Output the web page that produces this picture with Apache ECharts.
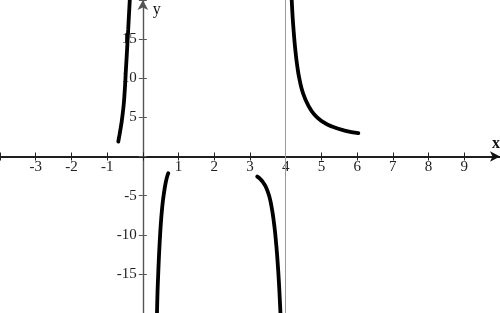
<!DOCTYPE html>
<html>
<head>
<meta charset="utf-8">
<script src="https://cdn.jsdelivr.net/npm/echarts@6/dist/echarts.min.js"></script>
<style>
html,body{margin:0;padding:0;background:#fff;}
#chart{width:500px;height:313px;}
</style>
</head>
<body>
<div id="chart"></div>
<script>
// Axis ranges and tick labels
const xRange = [-4, 10];
const yRange = [-20, 20];
const xTickLabels = [-3, -2, -1, 1, 2, 3, 4, 5, 6, 7, 8, 9];
const yTickLabels = [-15, -10, -5, 5, 10, 15];
const asymptoteX = [4];

// Curve branches: [x, y]
const branch1 = [[-0.688,1.90],[-0.654,2.76],[-0.621,3.65],[-0.590,4.55],[-0.562,5.57],[-0.537,6.59],[-0.517,7.74],[-0.497,9.15],[-0.478,10.81],[-0.455,12.60],[-0.433,14.39],[-0.411,16.18],[-0.389,18.10],[-0.366,20.01],[-0.346,21.9]];
const branch2 = [[0.712,-2.13],[0.670,-2.73],[0.628,-3.63],[0.592,-4.65],[0.558,-5.80],[0.530,-7.08],[0.505,-8.49],[0.483,-10.02],[0.463,-11.68],[0.444,-13.47],[0.427,-15.39],[0.410,-17.43],[0.396,-19.99],[0.385,-22.16]];
const branch3 = [[3.205,-2.57],[3.280,-2.84],[3.359,-3.25],[3.429,-3.76],[3.490,-4.40],[3.544,-5.16],[3.588,-6.06],[3.628,-7.08],[3.664,-8.23],[3.698,-9.51],[3.728,-10.94],[3.756,-12.40],[3.782,-14.06],[3.807,-15.85],[3.829,-17.76],[3.852,-19.99],[3.868,-22.16]];
const branch4 = [[4.145,22],[4.168,20.01],[4.193,17.88],[4.227,15.76],[4.269,13.62],[4.325,11.49],[4.389,9.79],[4.484,8.09],[4.624,6.59],[4.806,5.32],[5.030,4.46],[5.297,3.82],[5.647,3.31],[6.033,2.98]];

const font = '"Liberation Serif", "Times New Roman", serif';
const W = 500, H = 313;
const chart = echarts.init(document.getElementById('chart'), null, {renderer: 'canvas', width: W, height: H});

function xAxisCfg(main, offset) {
  return {
    type: 'value', min: xRange[0], max: xRange[1], interval: 1,
    position: main ? 'bottom' : 'top', offset: offset,
    name: main ? 'x' : '',
    nameLocation: 'end', nameGap: -4,
    nameTextStyle: {fontFamily: font, fontSize: 16, fontWeight: 'bold', color: '#111', align: 'center', verticalAlign: 'bottom', padding: [0, 0, 5, 0]},
    axisLine: {show: true, onZero: false,
      symbol: main ? ['none', 'arrow'] : 'none', symbolSize: [8, 10],
      lineStyle: {color: '#111', width: 1.5}},
    axisTick: {show: true, length: 4, lineStyle: {color: '#222', width: 1}},
    axisLabel: {show: main, margin: 3, fontFamily: font, fontSize: 15, color: '#222',
      formatter: v => xTickLabels.includes(v) ? String(v) : ''},
    splitLine: {show: false}
  };
}
function yAxisCfg(main, offset) {
  return {
    type: 'value', min: yRange[0], max: yRange[1], interval: 5,
    position: main ? 'left' : 'right', offset: offset,
    name: main ? 'y' : '',
    nameLocation: 'end', nameGap: -10,
    nameTextStyle: {fontFamily: font, fontSize: 16, color: '#111', align: 'left', verticalAlign: 'middle', padding: [0, 0, 0, 10]},
    axisLine: {show: true, onZero: false,
      symbol: main ? ['none', 'arrow'] : 'none', symbolSize: [8, 10],
      lineStyle: {color: '#555', width: 1.2}},
    axisTick: {show: true, length: 4, lineStyle: {color: '#555', width: 1}},
    axisLabel: {show: main, margin: 6, fontFamily: font, fontSize: 15, color: '#222',
      formatter: v => yTickLabels.includes(v) ? String(v) : ''},
    splitLine: {show: false}
  };
}

function curve(data, extra) {
  return Object.assign({
    type: 'line', data: data, xAxisIndex: 0, yAxisIndex: 0,
    showSymbol: false, smooth: 0.5, clip: true, silent: true,
    lineStyle: {color: '#000', width: 3.8, cap: 'round'}, z: 5
  }, extra || {});
}

function buildOption(ox, oy) {
  // ox: offsets for x axes [bottom, top]; oy: offsets for y axes [left, right]
  return {
    animation: false,
    backgroundColor: '#fff',
    grid: {left: 0, right: 0, top: 0, bottom: 0, containLabel: false, outerBoundsMode: 'none'},
    xAxis: [xAxisCfg(true, ox[0]), xAxisCfg(false, ox[1])],
    yAxis: [yAxisCfg(true, oy[0]), yAxisCfg(false, oy[1])],
    series: [
      curve(branch1, {
        markLine: {silent: true, symbol: ['none', 'none'], label: {show: false},
          lineStyle: {color: '#9a9a9a', width: 1, type: 'solid'},
          data: asymptoteX.map(v => ({xAxis: v}))}
      }),
      curve(branch2),
      curve(branch3),
      curve(branch4)
    ]
  };
}

chart.setOption(buildOption([0, 0], [0, 0]));
// Place the axes through the origin using the library's own scales
const origin = chart.convertToPixel({gridIndex: 0}, [0, 0]);
const gridRect = chart.getModel().getComponent('grid', 0).coordinateSystem.getRect();
const bottomEdge = gridRect.y + gridRect.height;
const rightEdge = gridRect.x + gridRect.width;
chart.setOption(buildOption(
  [-(bottomEdge - origin[1]), -(origin[1] - gridRect.y)],
  [-(origin[0] - gridRect.x), -(rightEdge - origin[0])]
));
</script>
</body>
</html>
